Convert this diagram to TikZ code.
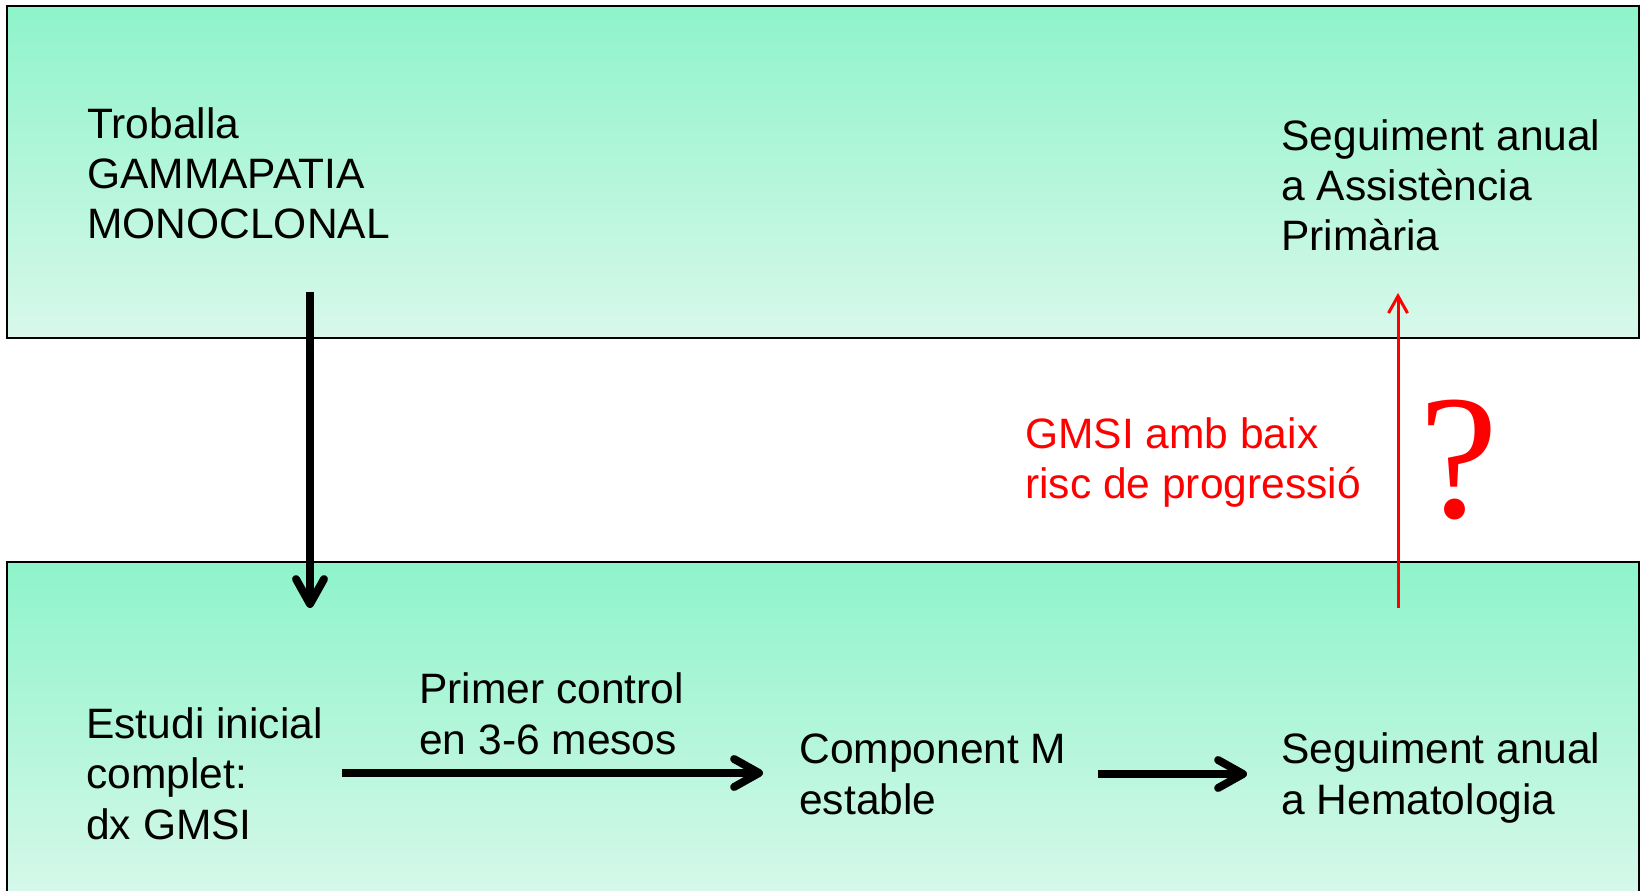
\documentclass[tikz,border=0pt]{standalone}
\usepackage{fontspec}
\setmainfont{Liberation Sans}
\newfontfamily\qfont{Liberation Serif}
\usetikzlibrary{arrows.meta}

\definecolor{mintTop}{RGB}{142,244,202}
\definecolor{mintBottom}{RGB}{216,248,235}
\definecolor{alertRed}{RGB}{255,0,0}

\tikzset{
  band/.style={draw=black,line width=1.1pt,top color=mintTop,bottom color=mintBottom},
  txt/.style={anchor=base west,inner sep=0pt,align=left,font=\fontsize{24.2}{28.6}\selectfont},
  flow/.style={line width=4.5pt,-{Straight Barb[length=0.5cm,width=0.56cm,round]}},
  riskflow/.style={alertRed,line width=1.7pt,-{Straight Barb[length=0.34cm,width=0.38cm]}}
}

\begin{document}
\begin{tikzpicture}[x=0.02cm,y=-0.02cm]
\useasboundingbox (0,0) rectangle (1640,891);

% bands
\path[band] (7,6) rectangle (1639,338);
\path[band] (7,562) rectangle (1639,905);

% texts (base = last line)
\node[txt] (troballa) at (87,239) {Troballa\\GAMMAPATIA\\MONOCLONAL};
\node[txt] (primaria) at (1281,251) {Seguiment anual\\a Assistència\\Primària};
\node[txt,text=alertRed] (risc) at (1025,499) {GMSI amb baix\\risc de progressió};
\node[anchor=base west,inner sep=0pt,text=alertRed,font=\qfont\fontsize{101}{101}\selectfont] (dubte) at (1419,518) {?};
\node[txt] (estudi) at (86,839) {Estudi inicial\\complet:\\dx GMSI};
\node[txt] (control) at (419,754) {Primer control\\en 3-6 mesos};
\node[txt] (estable) at (799,814) {Component M\\estable};
\node[txt] (hemato) at (1281,814) {Seguiment anual\\a Hematologia};

% arrows
\coordinate (downA) at (310,292);
\coordinate (downB) at (310,608);
\coordinate (ctrlA) at (342,773);
\coordinate (ctrlB) at (763,773);
\coordinate (stabA) at (1098,774);
\coordinate (stabB) at (1247,774);
\coordinate (upA) at (1398,608);
\coordinate (upB) at (1398,293);

\draw[flow] (downA)--(downB);
\draw[flow] (ctrlA)--(ctrlB);
\draw[flow] (stabA)--(stabB);
\draw[riskflow] (upA)--(upB);

\end{tikzpicture}
\end{document}
